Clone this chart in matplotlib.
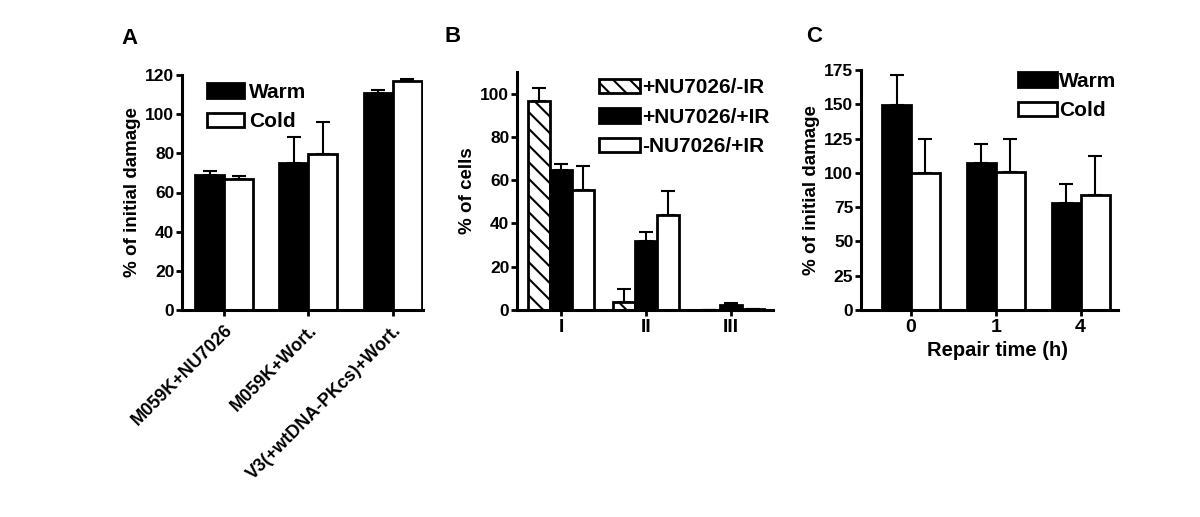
import matplotlib
matplotlib.use("Agg")
import matplotlib.pyplot as plt
import numpy as np

plt.rcParams['font.family'] = ['Liberation Sans', 'DejaVu Sans']
plt.rcParams['font.weight'] = 'bold'
plt.rcParams['axes.labelweight'] = 'bold'
plt.rcParams['hatch.linewidth'] = 1.5

# panel A
a_groups = ["M059K+NU7026", "M059K+Wort.", "V3(+wtDNA-PKcs)+Wort."]
a_warm = [69, 75, 111]
a_warm_err = [2, 13.5, 1.5]
a_cold = [67, 79.5, 117]
a_cold_err = [1.5, 16.5, 1.2]

# panel B
b_groups = ["I", "II", "III"]
b_hatch = [96.5, 3.5, 0]
b_hatch_err = [6, 6, 0]
b_black = [64.6, 32, 2.5]
b_black_err = [3, 4, 0.6]
b_white = [55.4, 44, 0.5]
b_white_err = [11, 11, 0]

# panel C
c_times = ["0", "1", "4"]
c_warm = [149.4, 107, 78]
c_warm_err = [22, 14.4, 14.2]
c_cold = [100, 100.7, 84]
c_cold_err = [25, 24.3, 28.3]

W, H = 1200, 517
fig = plt.figure(figsize=(12, 5.17), dpi=100)


def px_axes(x0, x1, ytop, ybot):
    return fig.add_axes([x0 / W, (H - ybot) / H, (x1 - x0) / W, (ybot - ytop) / H])


def style(ax):
    for s in ["top", "right"]:
        ax.spines[s].set_visible(False)
    for s in ["left", "bottom"]:
        ax.spines[s].set_linewidth(2.2)
    ax.tick_params(axis="y", length=4.5, width=2, labelsize=12.5, pad=1)
    ax.tick_params(axis="x", length=4.5, width=2, labelsize=14, pad=2)


def bars(ax, x, vals, errs, **kw):
    ax.bar(x, vals, width=kw.pop("width"), edgecolor="black", linewidth=2, zorder=2, **kw)
    ax.errorbar(x, vals, yerr=[np.zeros(len(vals)), errs], fmt="none", ecolor="black",
                elinewidth=1.5, capsize=5, capthick=1.5, zorder=1)


leg_kw = dict(loc="upper left", frameon=False, fontsize=15, handleheight=0.7,
              labelspacing=0.5, borderpad=0, borderaxespad=0)

# A
axA = px_axes(182, 423, 75, 310)
x = np.arange(3)
w = 0.345
bars(axA, x - w / 2, a_warm, a_warm_err, width=w, color="black", label="Warm")
bars(axA, x + w / 2, a_cold, a_cold_err, width=w, color="white", label="Cold")
axA.set_xlim(-0.5, 2.36)
axA.set_ylim(0, 120)
axA.set_yticks(range(0, 121, 20))
axA.set_xticks(x)
axA.set_xticklabels(a_groups, rotation=45, ha="right", rotation_mode="anchor")
style(axA)
axA.tick_params(axis="x", labelsize=13, pad=4)
axA.set_ylabel("% of initial damage", fontsize=13.5, labelpad=3)
axA.legend(bbox_to_anchor=(0.104, 0.966), handlelength=1.75, handletextpad=0.25, **leg_kw)

# B
axB = px_axes(517, 773, 72, 310)
x = np.arange(3)
w = 0.26
bars(axB, x - w, b_hatch, b_hatch_err, width=w, color="white", hatch="\\\\", label="+NU7026/-IR")
bars(axB, x, b_black, b_black_err, width=w, color="black", label="+NU7026/+IR")
bars(axB, x + w, b_white, b_white_err, width=w, color="white", label="-NU7026/+IR")
axB.set_xlim(-0.52, 2.5)
axB.set_ylim(0, 110)
axB.set_yticks(range(0, 101, 20))
axB.set_xticks(x)
axB.set_xticklabels(b_groups)
style(axB)
axB.set_ylabel("% of cells", fontsize=13.5, labelpad=3)
axB.legend(bbox_to_anchor=(0.32, 0.973), handlelength=1.95, handletextpad=0.12, **leg_kw)

# C
axC = px_axes(861, 1118, 70, 310)
x = np.arange(3)
w = 0.34
bars(axC, x - w / 2, c_warm, c_warm_err, width=w, color="black", label="Warm")
bars(axC, x + w / 2, c_cold, c_cold_err, width=w, color="white", label="Cold")
axC.set_xlim(-0.59, 2.44)
axC.set_ylim(0, 175)
axC.set_yticks(range(0, 176, 25))
axC.set_xticks(x)
axC.set_xticklabels(c_times)
style(axC)
axC.set_ylabel("% of initial damage", fontsize=13.5, labelpad=3)
axC.set_xlabel("Repair time (h)", fontsize=14.5, labelpad=0)
axC.xaxis.set_label_coords(0.53, -0.13)
axC.legend(bbox_to_anchor=(0.611, 0.992), handlelength=1.85, handletextpad=0.12, **leg_kw)

for lbl, px, py in [("A", 129, 39), ("B", 453, 37), ("C", 814, 37)]:
    fig.text(px / W, 1 - py / H, lbl, fontsize=16, fontweight="bold", ha="center", va="center")

fig.savefig("out.png", dpi=100)
